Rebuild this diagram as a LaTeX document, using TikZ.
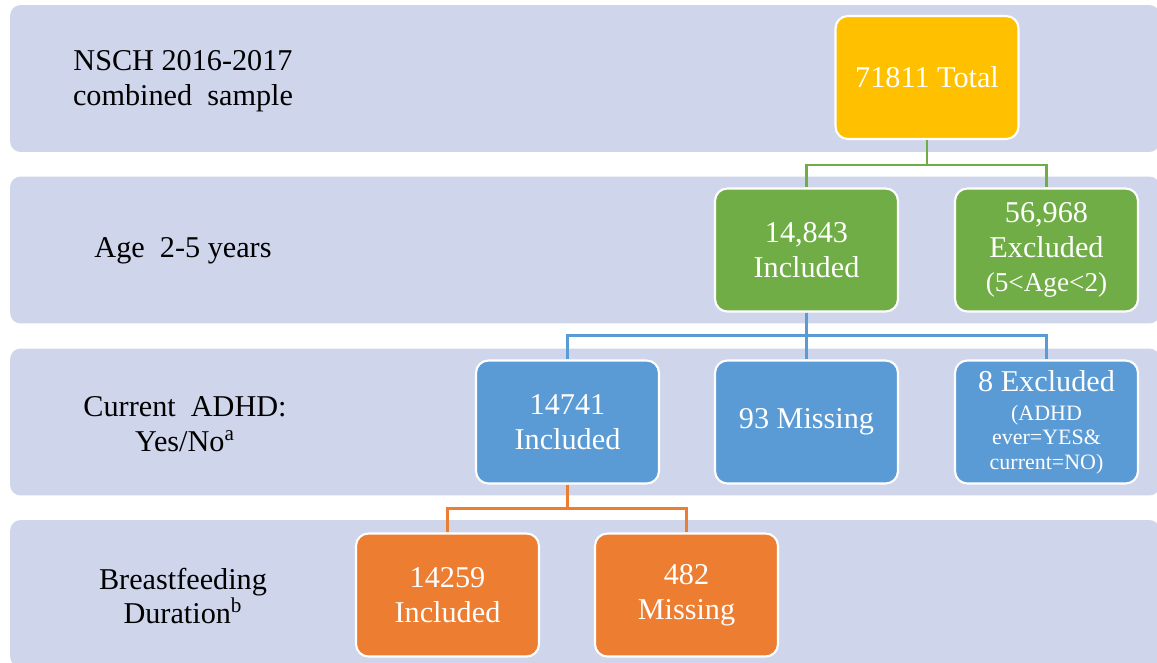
\documentclass[tikz,border=0pt]{standalone}
\usepackage{fontspec}
\setmainfont{Liberation Serif}
\usetikzlibrary{positioning}
\definecolor{bandFill}{RGB}{207,213,234}
\definecolor{totFill}{RGB}{255,192,0}
\definecolor{ageFill}{RGB}{112,173,71}
\definecolor{adFill}{RGB}{91,155,213}
\definecolor{bfFill}{RGB}{237,125,49}

\begin{document}
\begin{tikzpicture}[x=0.02cm,y=-0.02cm,font=\fontsize{17.2}{19.8}\selectfont,
  band/.style ={fill=bandFill,rounded corners=6pt,minimum width=23cm,minimum height=2.94cm,inner sep=0pt},
  lab/.style  ={align=center,text=black},
  box/.style  ={draw=white,line width=1.2pt,rounded corners=7pt,align=center,text=white,minimum width=3.66cm,minimum height=2.46cm,inner sep=2pt},
  tot/.style  ={box,fill=totFill},
  age/.style  ={box,fill=ageFill},
  ad/.style   ={box,fill=adFill},
  bf/.style   ={box,fill=bfFill},
  link/.style ={line width=1.2pt}]

\useasboundingbox (0,0) rectangle (1157,663);

% one band per selection step
\node[band] (b1) at (585, 78.5) {};
\node[band] (b2) at (585, 250)  {};
\node[band] (b3) at (585, 422)  {};
\node[band] (b4) at (585, 593.5){};

\node[lab] (l1) at (183, 81)  {NSCH 2016-2017\\ combined\ \ sample};
\node[lab] (l2) at (183, 251) {Age\ \ 2-5 years};
\node[lab] (l3) at (185, 424) {Current\ \ ADHD:\\ Yes/No\textsuperscript{a}};
\node[lab] (l4) at (183, 596) {Breastfeeding\\ Duration\textsuperscript{b}};

\node[tot] (tot)  at (927, 77.5)  {71811 Total};
\node[age] (inc1) at (806.5, 250) {14,843\\ Included};
\node[age] (exc1) at (1046.5, 250){56,968\\ Excluded\\ {\fontsize{15.5}{17.5}\selectfont (5<Age<2)}};
\node[ad]  (inc2) at (567.5, 422) {14741\\ Included};
\node[ad]  (mis2) at (806.5, 422) {93 Missing};
\node[ad]  (exc2) at (1046.5, 422){8 Excluded\\[-3pt] {\fontsize{12.5}{13}\selectfont (ADHD}\\[-6pt] {\fontsize{12.5}{13}\selectfont ever=YES\&}\\[-6pt] {\fontsize{12.5}{13}\selectfont current=NO)}};
\node[bf]  (inc3) at (447.5, 595){14259\\ Included};
\node[bf]  (mis3) at (686.5, 595){482\\ Missing};

% elbow links, y runs downwards
\draw[link,ageFill] (tot.south) -- ++(0,25) -| (inc1.north);
\draw[link,ageFill] (tot.south) -- ++(0,25) -| (exc1.north);
\draw[link,adFill]  (inc1.south) -- ++(0,23) -| (inc2.north);
\draw[link,adFill]  (inc1.south) -- (mis2.north);
\draw[link,adFill]  (inc1.south) -- ++(0,23) -| (exc2.north);
\draw[link,bfFill]  (inc2.south) -- ++(0,24) -| (inc3.north);
\draw[link,bfFill]  (inc2.south) -- ++(0,24) -| (mis3.north);
\end{tikzpicture}
\end{document}
